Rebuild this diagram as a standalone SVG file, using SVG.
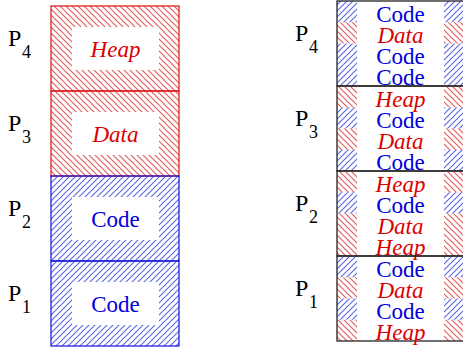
<svg xmlns="http://www.w3.org/2000/svg" width="463" height="351" viewBox="0 0 463 351">
<defs>
<pattern id="hr" patternUnits="userSpaceOnUse" width="6" height="6">
<path d="M0,0 L6,6 M-1,5 L1,7 M5,-1 L7,1" stroke="#e05a5a" stroke-width="1.1" fill="none"/>
</pattern>
<pattern id="hb" patternUnits="userSpaceOnUse" width="6" height="6">
<path d="M0,6 L6,0 M-1,1 L1,-1 M5,7 L7,5" stroke="#5a66e0" stroke-width="1.1" fill="none"/>
</pattern>
</defs>
<rect width="463" height="351" fill="#fff"/>
<g id="left-P4">
<rect fill="url(#hr)" x="51" y="6" width="128" height="85"/>
<rect fill="#fff" x="72" y="27" width="87" height="43"/>
<rect fill="none" stroke="#dd1111" stroke-width="1.2" x="51" y="6" width="128" height="85"/>
<text font-family="'Liberation Serif', serif" font-style="italic" font-size="23" fill="#dd0000" text-anchor="middle" x="115.5" y="57">Heap</text>
<text font-family="'Liberation Serif', serif" font-size="24" x="8" y="46">P</text><text font-family="'Liberation Serif', serif" font-size="18" x="22" y="58">4</text>
</g>
<g id="left-P3">
<rect fill="url(#hr)" x="51" y="91" width="128" height="85"/>
<rect fill="#fff" x="72" y="112" width="87" height="43"/>
<rect fill="none" stroke="#dd1111" stroke-width="1.2" x="51" y="91" width="128" height="85"/>
<text font-family="'Liberation Serif', serif" font-style="italic" font-size="23" fill="#dd0000" text-anchor="middle" x="115.5" y="142">Data</text>
<text font-family="'Liberation Serif', serif" font-size="24" x="8" y="131">P</text><text font-family="'Liberation Serif', serif" font-size="18" x="22" y="143">3</text>
</g>
<g id="left-P2">
<rect fill="url(#hb)" x="51" y="176" width="128" height="85"/>
<rect fill="#fff" x="72" y="197" width="87" height="43"/>
<rect fill="none" stroke="#1111dd" stroke-width="1.2" x="51" y="176" width="128" height="85"/>
<text font-family="'Liberation Serif', serif" font-size="23" fill="#0000dd" text-anchor="middle" x="115.5" y="227">Code</text>
<text font-family="'Liberation Serif', serif" font-size="24" x="8" y="216">P</text><text font-family="'Liberation Serif', serif" font-size="18" x="22" y="228">2</text>
</g>
<g id="left-P1">
<rect fill="url(#hb)" x="51" y="261" width="128" height="85"/>
<rect fill="#fff" x="72" y="282" width="87" height="43"/>
<rect fill="none" stroke="#1111dd" stroke-width="1.2" x="51" y="261" width="128" height="85"/>
<text font-family="'Liberation Serif', serif" font-size="23" fill="#0000dd" text-anchor="middle" x="115.5" y="312">Code</text>
<text font-family="'Liberation Serif', serif" font-size="24" x="8" y="301">P</text><text font-family="'Liberation Serif', serif" font-size="18" x="22" y="313">1</text>
</g>
<g id="right-P4">
<rect fill="url(#hb)" x="337" y="1" width="20" height="21.25"/><rect fill="url(#hb)" x="444" y="1" width="21" height="21.25"/>
<rect fill="url(#hr)" x="337" y="22.25" width="20" height="21.25"/><rect fill="url(#hr)" x="444" y="22.25" width="21" height="21.25"/>
<rect fill="url(#hb)" x="337" y="43.5" width="20" height="21.25"/><rect fill="url(#hb)" x="444" y="43.5" width="21" height="21.25"/>
<rect fill="url(#hb)" x="337" y="64.75" width="20" height="21.25"/><rect fill="url(#hb)" x="444" y="64.75" width="21" height="21.25"/>
<rect fill="none" stroke="#222" stroke-width="1.3" x="337" y="1" width="130" height="85"/>
<text font-family="'Liberation Serif', serif" font-size="23" fill="#0000dd" text-anchor="middle" x="400.5" y="21.5">Code</text>
<text font-family="'Liberation Serif', serif" font-style="italic" font-size="23" fill="#dd0000" text-anchor="middle" x="400.5" y="42.75">Data</text>
<text font-family="'Liberation Serif', serif" font-size="23" fill="#0000dd" text-anchor="middle" x="400.5" y="64">Code</text>
<text font-family="'Liberation Serif', serif" font-size="23" fill="#0000dd" text-anchor="middle" x="400.5" y="85.25">Code</text>
<text font-family="'Liberation Serif', serif" font-size="24" x="295" y="41">P</text><text font-family="'Liberation Serif', serif" font-size="18" x="309" y="53">4</text>
</g>
<g id="right-P3">
<rect fill="url(#hr)" x="337" y="86" width="20" height="21.25"/><rect fill="url(#hr)" x="444" y="86" width="21" height="21.25"/>
<rect fill="url(#hb)" x="337" y="107.25" width="20" height="21.25"/><rect fill="url(#hb)" x="444" y="107.25" width="21" height="21.25"/>
<rect fill="url(#hr)" x="337" y="128.5" width="20" height="21.25"/><rect fill="url(#hr)" x="444" y="128.5" width="21" height="21.25"/>
<rect fill="url(#hb)" x="337" y="149.75" width="20" height="21.25"/><rect fill="url(#hb)" x="444" y="149.75" width="21" height="21.25"/>
<rect fill="none" stroke="#222" stroke-width="1.3" x="337" y="86" width="130" height="85"/>
<text font-family="'Liberation Serif', serif" font-style="italic" font-size="23" fill="#dd0000" text-anchor="middle" x="400.5" y="106.5">Heap</text>
<text font-family="'Liberation Serif', serif" font-size="23" fill="#0000dd" text-anchor="middle" x="400.5" y="127.75">Code</text>
<text font-family="'Liberation Serif', serif" font-style="italic" font-size="23" fill="#dd0000" text-anchor="middle" x="400.5" y="149">Data</text>
<text font-family="'Liberation Serif', serif" font-size="23" fill="#0000dd" text-anchor="middle" x="400.5" y="170.25">Code</text>
<text font-family="'Liberation Serif', serif" font-size="24" x="295" y="126">P</text><text font-family="'Liberation Serif', serif" font-size="18" x="309" y="138">3</text>
</g>
<g id="right-P2">
<rect fill="url(#hr)" x="337" y="171" width="20" height="21.25"/><rect fill="url(#hr)" x="444" y="171" width="21" height="21.25"/>
<rect fill="url(#hb)" x="337" y="192.25" width="20" height="21.25"/><rect fill="url(#hb)" x="444" y="192.25" width="21" height="21.25"/>
<rect fill="url(#hr)" x="337" y="213.5" width="20" height="21.25"/><rect fill="url(#hr)" x="444" y="213.5" width="21" height="21.25"/>
<rect fill="url(#hr)" x="337" y="234.75" width="20" height="21.25"/><rect fill="url(#hr)" x="444" y="234.75" width="21" height="21.25"/>
<rect fill="none" stroke="#222" stroke-width="1.3" x="337" y="171" width="130" height="85"/>
<text font-family="'Liberation Serif', serif" font-style="italic" font-size="23" fill="#dd0000" text-anchor="middle" x="400.5" y="191.5">Heap</text>
<text font-family="'Liberation Serif', serif" font-size="23" fill="#0000dd" text-anchor="middle" x="400.5" y="212.75">Code</text>
<text font-family="'Liberation Serif', serif" font-style="italic" font-size="23" fill="#dd0000" text-anchor="middle" x="400.5" y="234">Data</text>
<text font-family="'Liberation Serif', serif" font-style="italic" font-size="23" fill="#dd0000" text-anchor="middle" x="400.5" y="255.25">Heap</text>
<text font-family="'Liberation Serif', serif" font-size="24" x="295" y="211">P</text><text font-family="'Liberation Serif', serif" font-size="18" x="309" y="223">2</text>
</g>
<g id="right-P1">
<rect fill="url(#hb)" x="337" y="256" width="20" height="21.25"/><rect fill="url(#hb)" x="444" y="256" width="21" height="21.25"/>
<rect fill="url(#hr)" x="337" y="277.25" width="20" height="21.25"/><rect fill="url(#hr)" x="444" y="277.25" width="21" height="21.25"/>
<rect fill="url(#hb)" x="337" y="298.5" width="20" height="21.25"/><rect fill="url(#hb)" x="444" y="298.5" width="21" height="21.25"/>
<rect fill="url(#hr)" x="337" y="319.75" width="20" height="21.25"/><rect fill="url(#hr)" x="444" y="319.75" width="21" height="21.25"/>
<rect fill="none" stroke="#222" stroke-width="1.3" x="337" y="256" width="130" height="85"/>
<text font-family="'Liberation Serif', serif" font-size="23" fill="#0000dd" text-anchor="middle" x="400.5" y="276.5">Code</text>
<text font-family="'Liberation Serif', serif" font-style="italic" font-size="23" fill="#dd0000" text-anchor="middle" x="400.5" y="297.75">Data</text>
<text font-family="'Liberation Serif', serif" font-size="23" fill="#0000dd" text-anchor="middle" x="400.5" y="319">Code</text>
<text font-family="'Liberation Serif', serif" font-style="italic" font-size="23" fill="#dd0000" text-anchor="middle" x="400.5" y="340.25">Heap</text>
<text font-family="'Liberation Serif', serif" font-size="24" x="295" y="296">P</text><text font-family="'Liberation Serif', serif" font-size="18" x="309" y="308">1</text>
</g>
<g id="connectors"/>
</svg>
